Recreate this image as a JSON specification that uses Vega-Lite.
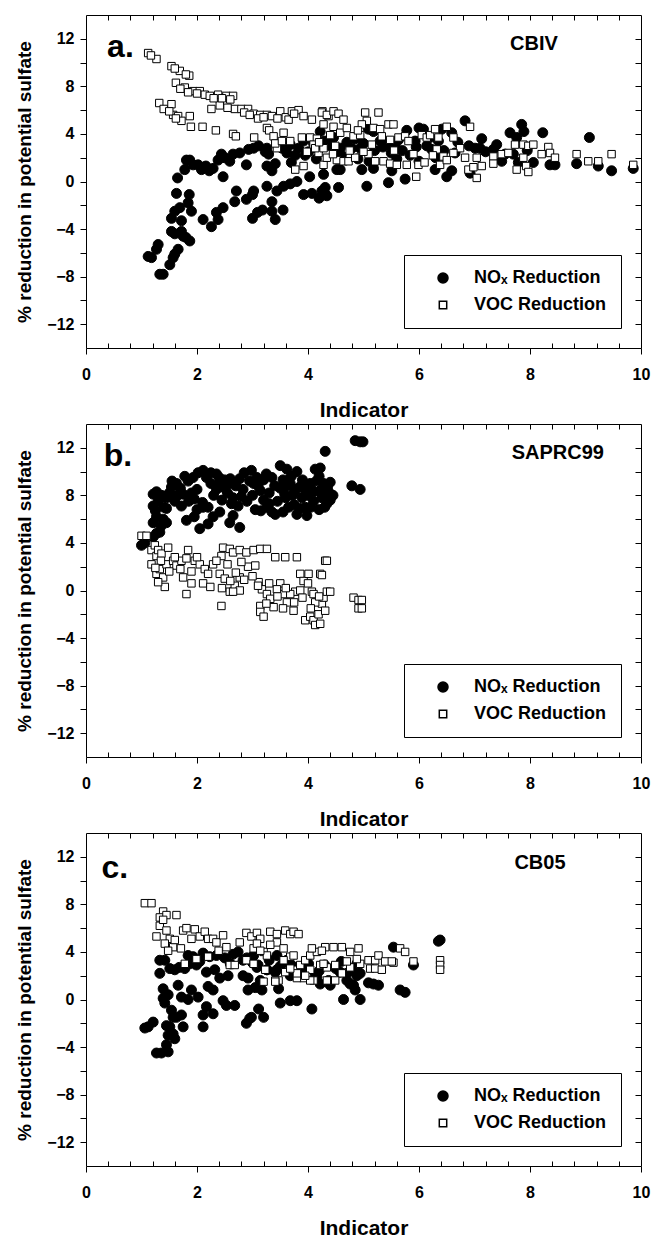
{
"$schema": "https://vega.github.io/schema/vega-lite/v6.json",
"padding": {"left": 15, "top": 14, "right": 5, "bottom": 0},
"spacing": 2,
"config": {
  "font": "Liberation Sans",
  "view": {"stroke": "black", "strokeWidth": 1},
  "axis": {"grid": false, "domain": false, "tickColor": "black", "tickWidth": 1, "labelColor": "black", "titleColor": "black", "labelFont": "Liberation Sans", "titleFont": "Liberation Sans", "labelFontSize": 16, "labelFontWeight": "bold", "titleFontSize": 21, "titleFontWeight": "bold", "labelFlush": false, "labelOverlap": false},
  "legend": {"orient": "bottom-right", "offset": 20, "strokeColor": "black", "strokeWidth": 1, "padding": 14, "labelFont": "Liberation Sans", "labelFontSize": 18, "labelFontWeight": "bold", "labelColor": "black", "symbolOffset": 16, "labelOffset": 22, "rowPadding": 9, "fillColor": "white"}
},
"resolve": {"scale": {"shape": "independent", "fill": "independent", "size": "independent"}},
"datasets": {
"a": [
{"s":"N","x":1.12,"y":-6.3},{"s":"N","x":1.18,"y":-6.4},{"s":"N","x":1.27,"y":-5.7},{"s":"N","x":1.30,"y":-5.3},{"s":"N","x":1.33,"y":-7.8},{"s":"N","x":1.39,"y":-7.8},{"s":"N","x":1.51,"y":-7.0},{"s":"N","x":1.57,"y":-6.4},{"s":"N","x":1.60,"y":-6.1},{"s":"N","x":1.66,"y":-5.7},{"s":"N","x":1.54,"y":-4.2},{"s":"N","x":1.60,"y":-4.4},{"s":"N","x":1.72,"y":-4.2},{"s":"N","x":1.75,"y":-4.6},{"s":"N","x":1.80,"y":-4.7},{"s":"N","x":1.87,"y":-5.0},{"s":"N","x":1.54,"y":-3.1},{"s":"N","x":1.60,"y":-2.5},{"s":"N","x":1.69,"y":-2.2},{"s":"N","x":1.72,"y":-3.3},{"s":"N","x":1.84,"y":-1.8},{"s":"N","x":1.90,"y":-2.5},{"s":"N","x":1.86,"y":-1.1},{"s":"N","x":1.63,"y":-1.0},{"s":"N","x":1.65,"y":0.3},{"s":"N","x":1.78,"y":1.0},{"s":"N","x":1.81,"y":1.8},{"s":"N","x":1.87,"y":1.8},{"s":"N","x":1.93,"y":1.4},{"s":"N","x":2.02,"y":1.4},{"s":"N","x":2.08,"y":1.0},{"s":"N","x":2.16,"y":1.3},{"s":"N","x":2.22,"y":0.9},{"s":"N","x":2.29,"y":1.1},{"s":"N","x":2.38,"y":1.8},{"s":"N","x":2.44,"y":2.3},{"s":"N","x":2.50,"y":2.0},{"s":"N","x":2.59,"y":1.7},{"s":"N","x":2.47,"y":0.4},{"s":"N","x":2.65,"y":2.3},{"s":"N","x":2.77,"y":2.4},{"s":"N","x":2.89,"y":1.4},{"s":"N","x":2.93,"y":2.7},{"s":"N","x":3.02,"y":2.8},{"s":"N","x":3.11,"y":3.0},{"s":"N","x":3.23,"y":2.5},{"s":"N","x":3.26,"y":2.8},{"s":"N","x":3.29,"y":2.3},{"s":"N","x":3.35,"y":0.9},{"s":"N","x":3.26,"y":1.3},{"s":"N","x":3.41,"y":1.5},{"s":"N","x":3.53,"y":2.8},{"s":"N","x":3.62,"y":2.4},{"s":"N","x":3.68,"y":3.1},{"s":"N","x":3.77,"y":2.2},{"s":"N","x":3.83,"y":2.8},{"s":"N","x":3.92,"y":3.4},{"s":"N","x":4.01,"y":2.5},{"s":"N","x":4.10,"y":3.2},{"s":"N","x":4.19,"y":2.7},{"s":"N","x":4.28,"y":0.6},{"s":"N","x":4.03,"y":0.4},{"s":"N","x":3.80,"y":0.0},{"s":"N","x":3.68,"y":-0.2},{"s":"N","x":3.56,"y":-0.4},{"s":"N","x":3.44,"y":-0.8},{"s":"N","x":3.26,"y":-0.4},{"s":"N","x":3.02,"y":-0.8},{"s":"N","x":3.00,"y":-1.1},{"s":"N","x":2.89,"y":-1.5},{"s":"N","x":2.71,"y":-0.8},{"s":"N","x":2.68,"y":-1.7},{"s":"N","x":2.47,"y":-2.2},{"s":"N","x":2.35,"y":-2.6},{"s":"N","x":2.38,"y":-3.2},{"s":"N","x":2.26,"y":-3.8},{"s":"N","x":2.11,"y":-3.2},{"s":"N","x":3.00,"y":-3.1},{"s":"N","x":3.09,"y":-2.6},{"s":"N","x":3.18,"y":-2.4},{"s":"N","x":3.35,"y":-1.7},{"s":"N","x":3.35,"y":-2.5},{"s":"N","x":3.41,"y":-3.2},{"s":"N","x":3.55,"y":-2.4},{"s":"N","x":3.92,"y":-1.1},{"s":"N","x":4.07,"y":-1.0},{"s":"N","x":4.20,"y":-1.4},{"s":"N","x":4.31,"y":-1.1},
{"s":"N","x":4.22,"y":4.2},{"s":"N","x":4.30,"y":3.4},{"s":"N","x":4.46,"y":3.7},{"s":"N","x":4.58,"y":2.8},{"s":"N","x":4.79,"y":2.8},{"s":"N","x":4.94,"y":2.8},{"s":"N","x":4.52,"y":1.0},{"s":"N","x":4.25,"y":-0.8},{"s":"N","x":4.31,"y":-0.5},{"s":"N","x":4.34,"y":-1.2},{"s":"N","x":4.55,"y":-0.5},{"s":"N","x":5.06,"y":-0.4},{"s":"N","x":5.45,"y":-0.1},{"s":"N","x":5.75,"y":0.2},{"s":"N","x":4.58,"y":1.0},{"s":"N","x":4.97,"y":1.0},{"s":"N","x":5.18,"y":1.1},{"s":"N","x":5.51,"y":0.9},{"s":"N","x":5.84,"y":2.2},{"s":"N","x":5.09,"y":4.4},{"s":"N","x":5.18,"y":4.2},{"s":"N","x":5.30,"y":3.4},{"s":"N","x":5.42,"y":3.1},{"s":"N","x":5.57,"y":3.0},{"s":"N","x":5.63,"y":3.5},{"s":"N","x":5.78,"y":4.3},{"s":"N","x":5.93,"y":3.4},{"s":"N","x":6.00,"y":4.5},{"s":"N","x":6.08,"y":4.4},{"s":"N","x":6.14,"y":3.0},{"s":"N","x":6.23,"y":2.7},{"s":"N","x":6.35,"y":3.4},{"s":"N","x":6.41,"y":4.4},{"s":"N","x":6.59,"y":4.1},{"s":"N","x":6.29,"y":1.0},{"s":"N","x":6.50,"y":0.4},{"s":"N","x":6.59,"y":0.9},{"s":"N","x":6.65,"y":2.4},{"s":"N","x":6.83,"y":5.1},{"s":"N","x":7.01,"y":2.8},{"s":"N","x":7.13,"y":3.6},{"s":"N","x":6.92,"y":0.7},{"s":"N","x":7.10,"y":2.8},{"s":"N","x":7.34,"y":2.7},{"s":"N","x":7.49,"y":1.7},{"s":"N","x":7.64,"y":4.1},{"s":"N","x":7.76,"y":3.7},{"s":"N","x":7.85,"y":4.8},{"s":"N","x":7.89,"y":4.2},{"s":"N","x":7.79,"y":1.6},{"s":"N","x":8.06,"y":1.6},{"s":"N","x":8.23,"y":4.1},{"s":"N","x":8.36,"y":1.4},{"s":"N","x":8.45,"y":1.4},{"s":"N","x":8.84,"y":1.5},{"s":"N","x":9.07,"y":3.7},{"s":"N","x":9.23,"y":1.3},{"s":"N","x":9.47,"y":0.9},{"s":"N","x":9.86,"y":1.1},{"s":"N","x":7.70,"y":2.3},{"s":"N","x":7.55,"y":2.3},
{"s":"N","x":4.40,"y":3.0},{"s":"N","x":4.70,"y":3.3},{"s":"N","x":4.85,"y":3.6},{"s":"N","x":5.00,"y":3.2},{"s":"N","x":5.20,"y":2.6},{"s":"N","x":5.35,"y":2.9},{"s":"N","x":5.50,"y":2.4},{"s":"N","x":5.70,"y":2.6},{"s":"N","x":5.95,"y":2.9},{"s":"N","x":6.20,"y":3.7},{"s":"N","x":6.45,"y":2.6},{"s":"N","x":6.70,"y":3.3},{"s":"N","x":6.90,"y":3.0},{"s":"N","x":7.20,"y":2.5},{"s":"N","x":7.40,"y":3.1},{"s":"N","x":7.95,"y":2.6},{"s":"N","x":4.60,"y":2.2},{"s":"N","x":4.90,"y":1.9},{"s":"N","x":5.10,"y":1.7},{"s":"N","x":5.60,"y":1.9},{"s":"N","x":6.00,"y":1.7},{"s":"N","x":6.30,"y":2.0},{"s":"N","x":4.15,"y":1.9},{"s":"N","x":3.95,"y":2.2},{"s":"N","x":3.70,"y":1.6},
{"s":"V","x":1.12,"y":10.8},{"s":"V","x":1.27,"y":10.3},{"s":"V","x":1.17,"y":10.6},{"s":"V","x":1.54,"y":9.7},{"s":"V","x":1.69,"y":9.3},{"s":"V","x":1.86,"y":8.9},{"s":"V","x":1.62,"y":8.3},{"s":"V","x":1.78,"y":7.9},{"s":"V","x":1.93,"y":7.6},{"s":"V","x":2.05,"y":7.6},{"s":"V","x":2.14,"y":7.3},{"s":"V","x":2.23,"y":7.2},{"s":"V","x":2.38,"y":7.3},{"s":"V","x":2.53,"y":7.2},{"s":"V","x":2.65,"y":7.2},{"s":"V","x":2.41,"y":6.4},{"s":"V","x":2.26,"y":6.1},{"s":"V","x":2.68,"y":6.1},{"s":"V","x":2.80,"y":6.1},{"s":"V","x":2.92,"y":6.1},{"s":"V","x":3.02,"y":5.7},{"s":"V","x":3.14,"y":5.6},{"s":"V","x":3.26,"y":5.6},{"s":"V","x":3.35,"y":5.5},{"s":"V","x":3.50,"y":5.9},{"s":"V","x":3.60,"y":5.4},{"s":"V","x":3.71,"y":5.9},{"s":"V","x":3.83,"y":6.0},{"s":"V","x":3.92,"y":5.5},{"s":"V","x":4.07,"y":5.2},{"s":"V","x":4.26,"y":5.9},{"s":"V","x":4.37,"y":5.5},
{"s":"V","x":1.32,"y":6.6},{"s":"V","x":1.40,"y":6.1},{"s":"V","x":1.54,"y":6.5},{"s":"V","x":1.57,"y":5.6},{"s":"V","x":1.66,"y":5.5},{"s":"V","x":1.72,"y":5.1},{"s":"V","x":1.87,"y":5.5},{"s":"V","x":1.89,"y":4.6},{"s":"V","x":2.10,"y":4.6},{"s":"V","x":2.34,"y":4.3},{"s":"V","x":2.65,"y":4.0},{"s":"V","x":2.70,"y":3.8},{"s":"V","x":3.03,"y":3.7},{"s":"V","x":3.26,"y":4.5},{"s":"V","x":3.30,"y":4.3},{"s":"V","x":3.38,"y":3.8},{"s":"V","x":3.56,"y":4.1},{"s":"V","x":3.44,"y":2.8},{"s":"V","x":3.41,"y":3.2},{"s":"V","x":3.53,"y":3.4},{"s":"V","x":3.68,"y":3.4},{"s":"V","x":3.89,"y":3.7},{"s":"V","x":4.04,"y":3.7},{"s":"V","x":4.16,"y":3.6},{"s":"V","x":4.10,"y":3.1},{"s":"V","x":4.19,"y":2.4},{"s":"V","x":4.28,"y":1.4},{"s":"V","x":3.77,"y":1.0},{"s":"V","x":3.92,"y":1.3},{"s":"V","x":3.98,"y":2.5},{"s":"V","x":4.13,"y":2.8},
{"s":"V","x":1.70,"y":7.8},{"s":"V","x":1.84,"y":7.5},{"s":"V","x":2.00,"y":7.4},{"s":"V","x":2.30,"y":7.0},{"s":"V","x":2.45,"y":7.0},{"s":"V","x":2.60,"y":6.9},{"s":"V","x":2.55,"y":6.2},{"s":"V","x":2.85,"y":5.8},{"s":"V","x":2.95,"y":5.6},{"s":"V","x":3.10,"y":5.3},{"s":"V","x":3.20,"y":5.4},{"s":"V","x":3.45,"y":5.3},{"s":"V","x":3.65,"y":5.2},{"s":"V","x":3.75,"y":5.7},{"s":"V","x":1.80,"y":9.0},{"s":"V","x":1.60,"y":9.5},{"s":"V","x":1.50,"y":5.9},{"s":"V","x":1.62,"y":5.3},
{"s":"V","x":4.25,"y":5.8},{"s":"V","x":4.34,"y":5.6},{"s":"V","x":4.46,"y":5.9},{"s":"V","x":4.55,"y":5.7},{"s":"V","x":4.64,"y":5.2},{"s":"V","x":4.28,"y":4.8},{"s":"V","x":4.46,"y":4.6},{"s":"V","x":4.40,"y":3.9},{"s":"V","x":4.58,"y":4.1},{"s":"V","x":4.82,"y":3.8},{"s":"V","x":4.94,"y":3.9},{"s":"V","x":5.03,"y":5.8},{"s":"V","x":5.27,"y":5.8},{"s":"V","x":5.06,"y":5.1},{"s":"V","x":4.97,"y":4.8},{"s":"V","x":5.18,"y":4.5},{"s":"V","x":5.30,"y":4.4},{"s":"V","x":5.45,"y":4.8},{"s":"V","x":5.54,"y":4.8},{"s":"V","x":5.33,"y":3.8},{"s":"V","x":5.48,"y":3.5},{"s":"V","x":5.63,"y":3.7},{"s":"V","x":5.75,"y":3.8},{"s":"V","x":5.81,"y":3.4},{"s":"V","x":4.28,"y":2.8},{"s":"V","x":4.49,"y":3.0},{"s":"V","x":4.34,"y":2.0},{"s":"V","x":4.52,"y":1.8},{"s":"V","x":4.64,"y":1.7},{"s":"V","x":4.73,"y":1.7},{"s":"V","x":4.85,"y":2.0},{"s":"V","x":5.09,"y":2.3},{"s":"V","x":5.21,"y":1.7},{"s":"V","x":5.36,"y":1.7},{"s":"V","x":5.48,"y":1.5},{"s":"V","x":5.60,"y":1.4},{"s":"V","x":5.78,"y":1.4},{"s":"V","x":5.99,"y":1.4},{"s":"V","x":5.95,"y":0.4},{"s":"V","x":6.05,"y":3.9},{"s":"V","x":6.14,"y":3.7},{"s":"V","x":6.20,"y":3.9},{"s":"V","x":6.29,"y":4.4},{"s":"V","x":6.35,"y":3.7},{"s":"V","x":6.50,"y":4.6},{"s":"V","x":6.62,"y":3.7},{"s":"V","x":6.74,"y":2.8},{"s":"V","x":6.32,"y":2.7},{"s":"V","x":6.44,"y":2.1},{"s":"V","x":6.38,"y":1.4},{"s":"V","x":6.50,"y":1.8},{"s":"V","x":6.62,"y":2.4},{"s":"V","x":6.83,"y":2.0},{"s":"V","x":6.92,"y":4.6},{"s":"V","x":6.89,"y":1.0},{"s":"V","x":6.98,"y":1.2},{"s":"V","x":7.04,"y":0.3},{"s":"V","x":7.13,"y":1.3},{"s":"V","x":7.04,"y":2.0},{"s":"V","x":7.34,"y":2.1},{"s":"V","x":7.34,"y":1.5},{"s":"V","x":7.49,"y":2.3},{"s":"V","x":7.61,"y":2.4},{"s":"V","x":7.73,"y":3.1},{"s":"V","x":7.76,"y":1.0},{"s":"V","x":7.88,"y":3.1},{"s":"V","x":7.97,"y":3.0},{"s":"V","x":8.06,"y":3.1},{"s":"V","x":7.93,"y":1.3},{"s":"V","x":7.97,"y":0.8},{"s":"V","x":7.88,"y":2.0},{"s":"V","x":8.21,"y":2.3},{"s":"V","x":8.33,"y":2.9},{"s":"V","x":8.36,"y":2.4},{"s":"V","x":8.45,"y":2.0},{"s":"V","x":8.84,"y":2.3},{"s":"V","x":9.05,"y":1.7},{"s":"V","x":9.23,"y":1.7},{"s":"V","x":9.47,"y":2.3},{"s":"V","x":9.86,"y":1.4},
{"s":"V","x":4.70,"y":4.5},{"s":"V","x":4.90,"y":4.3},{"s":"V","x":5.15,"y":3.1},{"s":"V","x":4.75,"y":2.6},{"s":"V","x":5.00,"y":2.5},{"s":"V","x":5.55,"y":2.6},{"s":"V","x":5.90,"y":2.3},{"s":"V","x":6.10,"y":1.6},{"s":"V","x":6.25,"y":2.2},{"s":"V","x":4.20,"y":3.3},{"s":"V","x":4.45,"y":2.3}
],
"b": [
{"s":"N","x":1.00,"y":3.8},{"s":"N","x":1.06,"y":4.0},{"s":"N","x":1.21,"y":4.5},{"s":"N","x":1.27,"y":4.8},{"s":"N","x":1.33,"y":4.9},{"s":"N","x":1.21,"y":5.7},{"s":"N","x":1.27,"y":6.2},{"s":"N","x":1.39,"y":6.0},{"s":"N","x":1.45,"y":6.9},{"s":"N","x":1.21,"y":7.1},{"s":"N","x":1.21,"y":8.1},{"s":"N","x":1.27,"y":8.3},{"s":"N","x":1.36,"y":8.0},{"s":"N","x":1.45,"y":7.8},{"s":"N","x":1.54,"y":8.7},{"s":"N","x":1.63,"y":9.0},{"s":"N","x":1.72,"y":7.1},{"s":"N","x":1.81,"y":5.9},{"s":"N","x":1.75,"y":8.1},{"s":"N","x":1.84,"y":9.2},{"s":"N","x":1.93,"y":9.5},{"s":"N","x":2.02,"y":9.9},{"s":"N","x":2.11,"y":10.1},{"s":"N","x":2.17,"y":9.5},{"s":"N","x":2.05,"y":5.2},{"s":"N","x":2.11,"y":7.0},{"s":"N","x":2.20,"y":5.6},{"s":"N","x":2.29,"y":6.2},{"s":"N","x":2.35,"y":9.8},{"s":"N","x":2.41,"y":9.1},{"s":"N","x":2.41,"y":6.6},{"s":"N","x":2.59,"y":5.7},{"s":"N","x":2.65,"y":6.3},{"s":"N","x":2.77,"y":5.3},{"s":"N","x":2.59,"y":9.0},{"s":"N","x":2.65,"y":7.8},{"s":"N","x":2.74,"y":7.1},{"s":"N","x":2.77,"y":9.4},{"s":"N","x":2.83,"y":8.5},{"s":"N","x":2.98,"y":10.1},{"s":"N","x":3.08,"y":9.5},{"s":"N","x":3.14,"y":8.4},{"s":"N","x":3.20,"y":7.6},{"s":"N","x":3.26,"y":7.0},{"s":"N","x":3.35,"y":6.6},{"s":"N","x":3.41,"y":6.4},{"s":"N","x":3.50,"y":10.5},{"s":"N","x":3.62,"y":10.2},{"s":"N","x":3.68,"y":9.0},{"s":"N","x":3.77,"y":8.4},{"s":"N","x":3.80,"y":6.4},{"s":"N","x":3.89,"y":7.8},{"s":"N","x":3.98,"y":6.3},{"s":"N","x":4.04,"y":9.0},{"s":"N","x":4.13,"y":10.2},{"s":"N","x":4.22,"y":8.4},{"s":"N","x":4.31,"y":11.7},
{"s":"N","x":4.22,"y":10.3},{"s":"N","x":4.28,"y":9.0},{"s":"N","x":4.40,"y":9.1},{"s":"N","x":4.25,"y":7.8},{"s":"N","x":4.34,"y":7.3},{"s":"N","x":4.37,"y":8.3},{"s":"N","x":4.79,"y":8.8},{"s":"N","x":4.94,"y":8.5},{"s":"N","x":4.85,"y":12.6},{"s":"N","x":4.94,"y":12.5},{"s":"N","x":4.99,"y":12.5},
{"s":"N","x":3.00,"y":8.0},{"s":"N","x":3.10,"y":8.8},{"s":"N","x":3.20,"y":9.3},{"s":"N","x":3.30,"y":8.2},{"s":"N","x":3.35,"y":9.5},{"s":"N","x":3.45,"y":7.5},{"s":"N","x":3.50,"y":8.6},{"s":"N","x":3.55,"y":9.3},{"s":"N","x":3.60,"y":7.8},{"s":"N","x":3.65,"y":8.8},{"s":"N","x":3.70,"y":9.6},{"s":"N","x":3.75,"y":7.2},{"s":"N","x":3.85,"y":8.7},{"s":"N","x":3.90,"y":9.3},{"s":"N","x":3.95,"y":7.0},{"s":"N","x":4.00,"y":8.0},{"s":"N","x":4.05,"y":8.6},{"s":"N","x":4.10,"y":7.5},{"s":"N","x":4.15,"y":9.2},{"s":"N","x":4.20,"y":6.8},{"s":"N","x":4.25,"y":8.1},{"s":"N","x":2.90,"y":7.5},{"s":"N","x":2.95,"y":9.2},{"s":"N","x":2.50,"y":8.6},{"s":"N","x":2.55,"y":8.2},{"s":"N","x":2.70,"y":8.8},{"s":"N","x":2.45,"y":7.6},{"s":"N","x":2.30,"y":8.0},{"s":"N","x":2.25,"y":9.0},{"s":"N","x":2.00,"y":8.5},{"s":"N","x":1.90,"y":8.2},{"s":"N","x":1.85,"y":7.5},{"s":"N","x":1.70,"y":8.6},{"s":"N","x":1.60,"y":7.5},{"s":"N","x":1.50,"y":8.2},{"s":"N","x":1.40,"y":7.0},{"s":"N","x":1.30,"y":7.5},{"s":"N","x":1.25,"y":6.7},{"s":"N","x":1.35,"y":5.4},{"s":"N","x":1.45,"y":5.7},{"s":"N","x":2.00,"y":6.8},{"s":"N","x":2.20,"y":7.0},{"s":"N","x":2.10,"y":7.4},{"s":"N","x":1.95,"y":6.2},{"s":"N","x":2.40,"y":9.5},{"s":"N","x":2.60,"y":9.4},{"s":"N","x":2.85,"y":9.9},{"s":"N","x":3.05,"y":6.8},{"s":"N","x":3.30,"y":7.3},{"s":"N","x":3.15,"y":6.7},{"s":"N","x":3.55,"y":6.6},{"s":"N","x":3.80,"y":10.0},{"s":"N","x":4.05,"y":7.0},{"s":"N","x":4.20,"y":9.6},{"s":"N","x":4.30,"y":7.0},{"s":"N","x":4.35,"y":8.7},{"s":"N","x":4.40,"y":7.6},{"s":"N","x":4.45,"y":8.0},
{"s":"N","x":1.55,"y":9.2},{"s":"N","x":1.78,"y":9.6},{"s":"N","x":2.25,"y":9.9},{"s":"N","x":2.50,"y":9.3},{"s":"N","x":2.62,"y":7.3},{"s":"N","x":2.80,"y":7.9},{"s":"N","x":3.02,"y":9.0},{"s":"N","x":3.25,"y":9.8},{"s":"N","x":3.40,"y":8.8},{"s":"N","x":3.58,"y":8.1},{"s":"N","x":3.72,"y":8.0},{"s":"N","x":3.95,"y":8.5},{"s":"N","x":4.10,"y":8.3},{"s":"N","x":3.85,"y":6.9},{"s":"N","x":3.65,"y":7.0},{"s":"N","x":1.95,"y":7.7},{"s":"N","x":2.35,"y":8.5},{"s":"N","x":1.65,"y":8.0},
{"s":"V","x":1.00,"y":4.6},{"s":"V","x":1.09,"y":4.6},{"s":"V","x":1.18,"y":3.4},{"s":"V","x":1.24,"y":3.8},{"s":"V","x":1.27,"y":2.9},{"s":"V","x":1.30,"y":3.4},{"s":"V","x":1.36,"y":3.1},{"s":"V","x":1.48,"y":3.6},{"s":"V","x":1.18,"y":2.2},{"s":"V","x":1.27,"y":1.4},{"s":"V","x":1.33,"y":1.8},{"s":"V","x":1.39,"y":1.1},{"s":"V","x":1.42,"y":0.3},{"s":"V","x":1.30,"y":0.7},{"s":"V","x":1.45,"y":2.2},{"s":"V","x":1.57,"y":2.5},{"s":"V","x":1.63,"y":2.1},{"s":"V","x":1.72,"y":2.5},{"s":"V","x":1.75,"y":1.1},{"s":"V","x":1.81,"y":2.7},{"s":"V","x":1.84,"y":3.4},{"s":"V","x":1.81,"y":-0.3},{"s":"V","x":1.90,"y":0.6},{"s":"V","x":1.96,"y":2.5},{"s":"V","x":2.05,"y":2.2},{"s":"V","x":2.11,"y":0.6},{"s":"V","x":2.14,"y":1.8},{"s":"V","x":2.24,"y":0.3},{"s":"V","x":2.29,"y":2.2},{"s":"V","x":2.41,"y":1.4},{"s":"V","x":2.44,"y":2.9},{"s":"V","x":2.47,"y":3.6},{"s":"V","x":2.59,"y":3.5},{"s":"V","x":2.65,"y":3.2},{"s":"V","x":2.77,"y":3.4},{"s":"V","x":2.89,"y":3.2},{"s":"V","x":3.02,"y":3.4},{"s":"V","x":3.14,"y":3.5},{"s":"V","x":3.26,"y":3.5},{"s":"V","x":3.41,"y":2.8},{"s":"V","x":3.59,"y":2.8},{"s":"V","x":3.80,"y":2.8},{"s":"V","x":2.44,"y":-1.3},{"s":"V","x":2.59,"y":-0.1},{"s":"V","x":2.68,"y":0.4},{"s":"V","x":2.77,"y":1.1},{"s":"V","x":2.92,"y":2.0},{"s":"V","x":3.05,"y":2.1},{"s":"V","x":3.11,"y":0.7},{"s":"V","x":3.17,"y":0.1},{"s":"V","x":3.14,"y":-1.3},{"s":"V","x":3.14,"y":-1.8},{"s":"V","x":3.20,"y":-2.2},{"s":"V","x":3.26,"y":-0.3},{"s":"V","x":3.32,"y":-0.7},{"s":"V","x":3.38,"y":-1.4},{"s":"V","x":3.50,"y":0.6},{"s":"V","x":3.56,"y":-0.3},{"s":"V","x":3.62,"y":-1.0},{"s":"V","x":3.74,"y":-1.7},{"s":"V","x":3.77,"y":-0.1},{"s":"V","x":3.86,"y":1.4},{"s":"V","x":3.92,"y":0.8},{"s":"V","x":3.95,"y":-2.5},{"s":"V","x":4.04,"y":-2.2},{"s":"V","x":4.10,"y":-2.5},{"s":"V","x":4.13,"y":-2.9},{"s":"V","x":4.19,"y":-2.0},{"s":"V","x":4.25,"y":-1.1},{"s":"V","x":4.01,"y":1.4},{"s":"V","x":4.07,"y":-0.1},{"s":"V","x":4.13,"y":-1.0},{"s":"V","x":4.10,"y":-0.3},{"s":"V","x":4.22,"y":1.4},{"s":"V","x":4.31,"y":2.5},{"s":"V","x":3.44,"y":0.1},{"s":"V","x":3.68,"y":-0.3},{"s":"V","x":3.86,"y":0.0},{"s":"V","x":2.77,"y":0.0},{"s":"V","x":2.65,"y":-0.1},
{"s":"V","x":4.34,"y":2.5},{"s":"V","x":4.25,"y":1.3},{"s":"V","x":4.28,"y":-0.6},{"s":"V","x":4.34,"y":-0.1},{"s":"V","x":4.40,"y":-0.1},{"s":"V","x":4.31,"y":-1.7},{"s":"V","x":4.22,"y":-2.8},{"s":"V","x":4.82,"y":-0.6},{"s":"V","x":4.91,"y":-0.8},{"s":"V","x":4.97,"y":-0.8},{"s":"V","x":4.91,"y":-1.5},{"s":"V","x":4.97,"y":-1.5},
{"s":"V","x":1.50,"y":1.6},{"s":"V","x":1.60,"y":2.8},{"s":"V","x":1.70,"y":1.8},{"s":"V","x":1.90,"y":1.6},{"s":"V","x":2.00,"y":2.8},{"s":"V","x":2.20,"y":1.4},{"s":"V","x":2.35,"y":2.5},{"s":"V","x":2.50,"y":1.0},{"s":"V","x":2.55,"y":2.2},{"s":"V","x":2.70,"y":1.5},{"s":"V","x":2.85,"y":0.9},{"s":"V","x":3.00,"y":1.2},{"s":"V","x":3.10,"y":0.4},{"s":"V","x":3.30,"y":0.6},{"s":"V","x":3.45,"y":-0.5},{"s":"V","x":3.60,"y":0.2},{"s":"V","x":3.75,"y":-1.0},{"s":"V","x":3.90,"y":-0.6},{"s":"V","x":4.00,"y":0.6},{"s":"V","x":4.20,"y":-0.5},{"s":"V","x":3.25,"y":-1.1},{"s":"V","x":3.55,"y":-1.5},{"s":"V","x":4.05,"y":-1.5},{"s":"V","x":1.35,"y":2.5},{"s":"V","x":1.25,"y":1.9},{"s":"V","x":2.80,"y":2.4},{"s":"V","x":2.60,"y":0.8},{"s":"V","x":2.45,"y":0.2}
],
"c": [
{"s":"N","x":1.06,"y":-2.4},{"s":"N","x":1.12,"y":-2.3},{"s":"N","x":1.21,"y":-1.9},{"s":"N","x":1.27,"y":-4.5},{"s":"N","x":1.36,"y":-4.5},{"s":"N","x":1.48,"y":-4.4},{"s":"N","x":1.45,"y":-3.8},{"s":"N","x":1.48,"y":-3.0},{"s":"N","x":1.51,"y":-2.3},{"s":"N","x":1.57,"y":-2.9},{"s":"N","x":1.60,"y":-3.3},{"s":"N","x":1.45,"y":-2.2},{"s":"N","x":1.39,"y":0.1},{"s":"N","x":1.42,"y":-0.3},{"s":"N","x":1.48,"y":0.4},{"s":"N","x":1.54,"y":-0.9},{"s":"N","x":1.57,"y":-1.5},{"s":"N","x":1.63,"y":-1.5},{"s":"N","x":1.66,"y":1.2},{"s":"N","x":1.72,"y":0.2},{"s":"N","x":1.75,"y":-2.3},{"s":"N","x":1.72,"y":-1.3},{"s":"N","x":1.84,"y":0.0},{"s":"N","x":1.90,"y":0.8},{"s":"N","x":2.02,"y":0.2},{"s":"N","x":1.39,"y":0.9},{"s":"N","x":1.33,"y":2.2},{"s":"N","x":1.33,"y":3.3},{"s":"N","x":1.42,"y":3.3},{"s":"N","x":1.51,"y":2.6},{"s":"N","x":1.60,"y":2.5},{"s":"N","x":1.68,"y":2.7},{"s":"N","x":1.78,"y":2.6},{"s":"N","x":1.87,"y":3.0},{"s":"N","x":1.99,"y":2.9},{"s":"N","x":2.05,"y":3.2},{"s":"N","x":1.84,"y":3.7},{"s":"N","x":1.93,"y":3.6},{"s":"N","x":2.11,"y":3.9},{"s":"N","x":2.23,"y":3.6},{"s":"N","x":2.17,"y":2.3},{"s":"N","x":2.20,"y":1.1},{"s":"N","x":2.29,"y":0.8},{"s":"N","x":2.11,"y":-1.3},{"s":"N","x":2.17,"y":-0.6},{"s":"N","x":2.29,"y":-1.2},{"s":"N","x":2.11,"y":-2.3},{"s":"N","x":2.32,"y":2.5},{"s":"N","x":2.41,"y":1.8},{"s":"N","x":2.47,"y":-0.1},{"s":"N","x":2.53,"y":-0.5},{"s":"N","x":2.56,"y":2.0},{"s":"N","x":2.68,"y":-0.5},{"s":"N","x":2.74,"y":4.0},{"s":"N","x":2.83,"y":3.3},{"s":"N","x":2.83,"y":2.0},{"s":"N","x":2.92,"y":1.8},{"s":"N","x":2.89,"y":-2.0},{"s":"N","x":2.95,"y":-1.6},{"s":"N","x":2.98,"y":-1.5},{"s":"N","x":2.92,"y":0.8},{"s":"N","x":3.05,"y":1.0},{"s":"N","x":3.11,"y":-0.8},{"s":"N","x":3.20,"y":-1.5},{"s":"N","x":3.17,"y":0.8},{"s":"N","x":3.08,"y":2.7},{"s":"N","x":3.26,"y":2.5},{"s":"N","x":3.41,"y":2.3},{"s":"N","x":3.47,"y":0.9},{"s":"N","x":3.50,"y":-0.3},{"s":"N","x":3.68,"y":-0.1},{"s":"N","x":3.80,"y":-0.1},{"s":"N","x":4.07,"y":-0.8},{"s":"N","x":3.56,"y":3.1},{"s":"N","x":3.68,"y":2.0},{"s":"N","x":3.86,"y":2.3},{"s":"N","x":3.98,"y":3.1},{"s":"N","x":4.13,"y":2.0},{"s":"N","x":4.22,"y":1.3},{"s":"N","x":4.37,"y":1.6},{"s":"N","x":3.44,"y":3.7},{"s":"N","x":3.02,"y":3.7},
{"s":"N","x":5.54,"y":4.4},{"s":"N","x":6.35,"y":4.9},{"s":"N","x":6.38,"y":5.0},{"s":"N","x":5.90,"y":2.9},{"s":"N","x":5.66,"y":0.8},{"s":"N","x":5.75,"y":0.6},{"s":"N","x":5.09,"y":1.4},{"s":"N","x":5.18,"y":1.3},{"s":"N","x":5.27,"y":1.2},{"s":"N","x":4.64,"y":0.0},{"s":"N","x":4.94,"y":0.0},{"s":"N","x":4.82,"y":1.2},{"s":"N","x":4.70,"y":1.6},{"s":"N","x":4.40,"y":1.2},{"s":"N","x":4.88,"y":2.0},{"s":"N","x":4.58,"y":2.3},{"s":"N","x":3.26,"y":2.5},{"s":"N","x":3.14,"y":1.6},{"s":"N","x":3.44,"y":2.5},{"s":"N","x":3.84,"y":2.7},{"s":"N","x":4.16,"y":1.9},{"s":"N","x":4.70,"y":2.2},{"s":"N","x":4.76,"y":1.3},{"s":"N","x":4.85,"y":0.8},{"s":"N","x":4.94,"y":2.2},{"s":"N","x":4.88,"y":3.0},{"s":"N","x":4.01,"y":3.0},{"s":"N","x":3.62,"y":3.3},
{"s":"N","x":2.35,"y":3.7},{"s":"N","x":2.50,"y":3.5},{"s":"N","x":2.60,"y":3.0},{"s":"N","x":2.65,"y":3.8},{"s":"N","x":2.90,"y":3.5},{"s":"N","x":3.00,"y":3.1},{"s":"N","x":3.10,"y":2.9},{"s":"N","x":3.30,"y":3.3},{"s":"N","x":3.50,"y":2.8},{"s":"N","x":3.70,"y":2.9},{"s":"N","x":3.90,"y":2.7},{"s":"N","x":4.20,"y":2.4},{"s":"N","x":4.30,"y":2.9},{"s":"N","x":4.50,"y":2.6},{"s":"N","x":4.60,"y":3.2},{"s":"N","x":4.80,"y":2.4},
{"s":"V","x":1.06,"y":8.1},{"s":"V","x":1.18,"y":8.1},{"s":"V","x":1.39,"y":7.4},{"s":"V","x":1.33,"y":6.9},{"s":"V","x":1.45,"y":7.1},{"s":"V","x":1.63,"y":7.1},{"s":"V","x":1.27,"y":5.3},{"s":"V","x":1.33,"y":6.2},{"s":"V","x":1.39,"y":6.7},{"s":"V","x":1.45,"y":5.8},{"s":"V","x":1.51,"y":5.1},{"s":"V","x":1.57,"y":4.4},{"s":"V","x":1.42,"y":4.7},{"s":"V","x":1.48,"y":4.1},{"s":"V","x":1.60,"y":5.0},{"s":"V","x":1.71,"y":4.3},{"s":"V","x":1.75,"y":5.8},{"s":"V","x":1.81,"y":6.0},{"s":"V","x":1.90,"y":5.1},{"s":"V","x":1.96,"y":5.9},{"s":"V","x":2.05,"y":5.3},{"s":"V","x":2.14,"y":5.7},{"s":"V","x":2.20,"y":5.1},{"s":"V","x":2.29,"y":5.1},{"s":"V","x":2.35,"y":4.8},{"s":"V","x":2.47,"y":5.4},{"s":"V","x":2.53,"y":4.4},{"s":"V","x":2.39,"y":4.1},{"s":"V","x":2.59,"y":2.9},{"s":"V","x":2.68,"y":2.9},{"s":"V","x":2.77,"y":4.8},{"s":"V","x":2.89,"y":5.6},{"s":"V","x":2.98,"y":5.3},{"s":"V","x":3.08,"y":5.6},{"s":"V","x":3.14,"y":5.1},{"s":"V","x":3.02,"y":4.3},{"s":"V","x":3.08,"y":4.7},{"s":"V","x":3.20,"y":4.0},{"s":"V","x":3.26,"y":3.7},{"s":"V","x":3.32,"y":5.7},{"s":"V","x":3.44,"y":5.5},{"s":"V","x":3.59,"y":5.8},{"s":"V","x":3.68,"y":5.5},{"s":"V","x":3.74,"y":5.7},{"s":"V","x":3.83,"y":5.5},{"s":"V","x":3.44,"y":4.8},{"s":"V","x":3.56,"y":4.3},{"s":"V","x":3.68,"y":3.6},{"s":"V","x":3.74,"y":2.5},{"s":"V","x":3.59,"y":2.3},{"s":"V","x":3.47,"y":1.6},{"s":"V","x":3.41,"y":1.6},{"s":"V","x":3.74,"y":3.7},{"s":"V","x":3.86,"y":2.9},{"s":"V","x":3.95,"y":3.3},{"s":"V","x":4.04,"y":3.7},{"s":"V","x":4.16,"y":4.0},{"s":"V","x":4.31,"y":4.4},{"s":"V","x":4.22,"y":2.9},{"s":"V","x":4.34,"y":2.7},{"s":"V","x":4.04,"y":2.5},{"s":"V","x":3.92,"y":1.8},{"s":"V","x":4.10,"y":1.6},{"s":"V","x":3.80,"y":1.8},{"s":"V","x":3.23,"y":2.5},{"s":"V","x":2.89,"y":3.3},{"s":"V","x":2.20,"y":3.6},{"s":"V","x":1.99,"y":3.4},{"s":"V","x":1.78,"y":3.0},
{"s":"V","x":4.07,"y":4.3},{"s":"V","x":4.25,"y":4.1},{"s":"V","x":4.46,"y":4.4},{"s":"V","x":4.61,"y":4.4},{"s":"V","x":4.76,"y":4.0},{"s":"V","x":4.91,"y":4.3},{"s":"V","x":5.09,"y":3.3},{"s":"V","x":5.21,"y":3.3},{"s":"V","x":5.27,"y":3.7},{"s":"V","x":5.39,"y":3.2},{"s":"V","x":5.54,"y":3.1},{"s":"V","x":5.66,"y":4.3},{"s":"V","x":5.75,"y":4.0},{"s":"V","x":5.90,"y":3.2},{"s":"V","x":6.38,"y":3.3},{"s":"V","x":6.38,"y":2.9},{"s":"V","x":6.38,"y":2.5},{"s":"V","x":5.12,"y":2.6},{"s":"V","x":5.21,"y":2.6},{"s":"V","x":5.33,"y":2.5},{"s":"V","x":4.94,"y":3.0},{"s":"V","x":4.76,"y":2.7},{"s":"V","x":4.61,"y":2.2},{"s":"V","x":4.49,"y":1.6},{"s":"V","x":4.34,"y":1.6},{"s":"V","x":4.04,"y":1.6},{"s":"V","x":3.95,"y":2.0},{"s":"V","x":3.80,"y":2.2},{"s":"V","x":3.68,"y":2.6},{"s":"V","x":3.56,"y":3.3},{"s":"V","x":3.20,"y":1.5},{"s":"V","x":3.41,"y":1.5},{"s":"V","x":3.02,"y":3.0},{"s":"V","x":3.14,"y":4.1},{"s":"V","x":3.32,"y":4.6},{"s":"V","x":4.28,"y":3.0},{"s":"V","x":4.49,"y":2.9},{"s":"V","x":4.70,"y":3.2},{"s":"V","x":4.88,"y":3.4},{"s":"V","x":5.51,"y":3.2}
]
},
"vconcat": [
{
 "width": 555, "height": 333,
 "resolve": {"axis": {"x": "independent", "y": "independent"}},
 "layer": [
  {"data": {"name": "a"},
   "mark": {"type": "point", "filled": true, "opacity": 1, "stroke": "black", "strokeWidth": 1},
   "encoding": {
    "x": {"field": "x", "type": "quantitative", "scale": {"domain": [0, 10], "nice": false, "zero": false}, "axis": {"orient": "bottom", "values": [0, 2, 4, 6, 8, 10], "tickSize": 6, "labelPadding": 12, "title": "Indicator", "titlePadding": 17}},
    "y": {"field": "y", "type": "quantitative", "scale": {"domain": [-14, 14], "nice": false, "zero": false}, "axis": {"orient": "left", "values": [-12, -10, -8, -6, -4, -2, 0, 2, 4, 6, 8, 10, 12], "tickSize": 6, "labelPadding": 6, "labelExpr": "datum.value % 4 == 0 ? datum.label : ''", "title": "% reduction in potential sulfate", "titleFontSize": 19, "titlePadding": 12}},
    "shape": {"field": "s", "type": "nominal", "scale": {"domain": ["N", "V"], "range": ["circle", "square"]}, "legend": {"title": null, "labelExpr": "datum.label == 'N' ? 'NOₓ Reduction' : 'VOC Reduction'"}},
    "fill": {"field": "s", "type": "nominal", "scale": {"domain": ["N", "V"], "range": ["black", "white"]}, "legend": {"title": null, "labelExpr": "datum.label == 'N' ? 'NOₓ Reduction' : 'VOC Reduction'"}},
    "size": {"field": "s", "type": "nominal", "scale": {"domain": ["N", "V"], "range": [100, 55]}, "legend": {"title": null, "labelExpr": "datum.label == 'N' ? 'NOₓ Reduction' : 'VOC Reduction'"}}
   }},
  {"data": {"values": [{}]},
   "mark": {"type": "text", "fontSize": 32, "fontWeight": "bold", "align": "left", "baseline": "alphabetic", "color": "black"},
   "encoding": {
    "x": {"datum": 0.38, "type": "quantitative", "axis": {"orient": "bottom", "values": [0.4, 0.8, 1.2, 1.6, 2.4, 2.8, 3.2, 3.6, 4.4, 4.8, 5.2, 5.6, 6.4, 6.8, 7.2, 7.6, 8.4, 8.8, 9.2, 9.6], "tickSize": -5, "labels": false, "title": null}},
    "y": {"datum": 10.5, "type": "quantitative", "axis": {"orient": "right", "values": [-12, -10, -8, -6, -4, -2, 0, 2, 4, 6, 8, 10, 12], "tickSize": -6, "labels": false, "title": null}},
    "text": {"value": "a."}
   }},
  {"data": {"values": [{}]},
   "mark": {"type": "text", "fontSize": 20, "fontWeight": "bold", "align": "center", "baseline": "alphabetic", "color": "black"},
   "encoding": {
    "x": {"datum": 8.07, "type": "quantitative", "axis": {"orient": "top", "values": [0.4, 0.8, 1.2, 1.6, 2, 2.4, 2.8, 3.2, 3.6, 4, 4.4, 4.8, 5.2, 5.6, 6, 6.4, 6.8, 7.2, 7.6, 8, 8.4, 8.8, 9.2, 9.6], "tickSize": -5, "labels": false, "title": null}},
    "y": {"datum": 11.06, "type": "quantitative", "axis": null},
    "text": {"value": "CBIV"}
   }}
 ]
},
{
 "width": 555, "height": 333,
 "resolve": {"axis": {"x": "independent", "y": "independent"}},
 "layer": [
  {"data": {"name": "b"},
   "mark": {"type": "point", "filled": true, "opacity": 1, "stroke": "black", "strokeWidth": 1},
   "encoding": {
    "x": {"field": "x", "type": "quantitative", "scale": {"domain": [0, 10], "nice": false, "zero": false}, "axis": {"orient": "bottom", "values": [0, 2, 4, 6, 8, 10], "tickSize": 6, "labelPadding": 12, "title": "Indicator", "titlePadding": 17}},
    "y": {"field": "y", "type": "quantitative", "scale": {"domain": [-14, 14], "nice": false, "zero": false}, "axis": {"orient": "left", "values": [-12, -10, -8, -6, -4, -2, 0, 2, 4, 6, 8, 10, 12], "tickSize": 6, "labelPadding": 6, "labelExpr": "datum.value % 4 == 0 ? datum.label : ''", "title": "% reduction in potential sulfate", "titleFontSize": 19, "titlePadding": 12}},
    "shape": {"field": "s", "type": "nominal", "scale": {"domain": ["N", "V"], "range": ["circle", "square"]}, "legend": {"title": null, "labelExpr": "datum.label == 'N' ? 'NOₓ Reduction' : 'VOC Reduction'"}},
    "fill": {"field": "s", "type": "nominal", "scale": {"domain": ["N", "V"], "range": ["black", "white"]}, "legend": {"title": null, "labelExpr": "datum.label == 'N' ? 'NOₓ Reduction' : 'VOC Reduction'"}},
    "size": {"field": "s", "type": "nominal", "scale": {"domain": ["N", "V"], "range": [100, 55]}, "legend": {"title": null, "labelExpr": "datum.label == 'N' ? 'NOₓ Reduction' : 'VOC Reduction'"}}
   }},
  {"data": {"values": [{}]},
   "mark": {"type": "text", "fontSize": 32, "fontWeight": "bold", "align": "left", "baseline": "alphabetic", "color": "black"},
   "encoding": {
    "x": {"datum": 0.32, "type": "quantitative", "axis": {"orient": "bottom", "values": [0.4, 0.8, 1.2, 1.6, 2.4, 2.8, 3.2, 3.6, 4.4, 4.8, 5.2, 5.6, 6.4, 6.8, 7.2, 7.6, 8.4, 8.8, 9.2, 9.6], "tickSize": -5, "labels": false, "title": null}},
    "y": {"datum": 10.45, "type": "quantitative", "axis": {"orient": "right", "values": [-12, -10, -8, -6, -4, -2, 0, 2, 4, 6, 8, 10, 12], "tickSize": -6, "labels": false, "title": null}},
    "text": {"value": "b."}
   }},
  {"data": {"values": [{}]},
   "mark": {"type": "text", "fontSize": 20, "fontWeight": "bold", "align": "center", "baseline": "alphabetic", "color": "black"},
   "encoding": {
    "x": {"datum": 8.5, "type": "quantitative", "axis": {"orient": "top", "values": [0.4, 0.8, 1.2, 1.6, 2, 2.4, 2.8, 3.2, 3.6, 4, 4.4, 4.8, 5.2, 5.6, 6, 6.4, 6.8, 7.2, 7.6, 8, 8.4, 8.8, 9.2, 9.6], "tickSize": -5, "labels": false, "title": null}},
    "y": {"datum": 11.06, "type": "quantitative", "axis": null},
    "text": {"value": "SAPRC99"}
   }}
 ]
},
{
 "width": 555, "height": 333,
 "resolve": {"axis": {"x": "independent", "y": "independent"}},
 "layer": [
  {"data": {"name": "c"},
   "mark": {"type": "point", "filled": true, "opacity": 1, "stroke": "black", "strokeWidth": 1},
   "encoding": {
    "x": {"field": "x", "type": "quantitative", "scale": {"domain": [0, 10], "nice": false, "zero": false}, "axis": {"orient": "bottom", "values": [0, 2, 4, 6, 8, 10], "tickSize": 6, "labelPadding": 12, "title": "Indicator", "titlePadding": 17}},
    "y": {"field": "y", "type": "quantitative", "scale": {"domain": [-14, 14], "nice": false, "zero": false}, "axis": {"orient": "left", "values": [-12, -10, -8, -6, -4, -2, 0, 2, 4, 6, 8, 10, 12], "tickSize": 6, "labelPadding": 6, "labelExpr": "datum.value % 4 == 0 ? datum.label : ''", "title": "% reduction in potential sulfate", "titleFontSize": 19, "titlePadding": 12}},
    "shape": {"field": "s", "type": "nominal", "scale": {"domain": ["N", "V"], "range": ["circle", "square"]}, "legend": {"title": null, "labelExpr": "datum.label == 'N' ? 'NOₓ Reduction' : 'VOC Reduction'"}},
    "fill": {"field": "s", "type": "nominal", "scale": {"domain": ["N", "V"], "range": ["black", "white"]}, "legend": {"title": null, "labelExpr": "datum.label == 'N' ? 'NOₓ Reduction' : 'VOC Reduction'"}},
    "size": {"field": "s", "type": "nominal", "scale": {"domain": ["N", "V"], "range": [100, 55]}, "legend": {"title": null, "labelExpr": "datum.label == 'N' ? 'NOₓ Reduction' : 'VOC Reduction'"}}
   }},
  {"data": {"values": [{}]},
   "mark": {"type": "text", "fontSize": 32, "fontWeight": "bold", "align": "left", "baseline": "alphabetic", "color": "black"},
   "encoding": {
    "x": {"datum": 0.28, "type": "quantitative", "axis": {"orient": "bottom", "values": [0.4, 0.8, 1.2, 1.6, 2.4, 2.8, 3.2, 3.6, 4.4, 4.8, 5.2, 5.6, 6.4, 6.8, 7.2, 7.6, 8.4, 8.8, 9.2, 9.6], "tickSize": -5, "labels": false, "title": null}},
    "y": {"datum": 10.25, "type": "quantitative", "axis": {"orient": "right", "values": [-12, -10, -8, -6, -4, -2, 0, 2, 4, 6, 8, 10, 12], "tickSize": -6, "labels": false, "title": null}},
    "text": {"value": "c."}
   }},
  {"data": {"values": [{}]},
   "mark": {"type": "text", "fontSize": 20, "fontWeight": "bold", "align": "center", "baseline": "alphabetic", "color": "black"},
   "encoding": {
    "x": {"datum": 8.18, "type": "quantitative", "axis": {"orient": "top", "values": [0.4, 0.8, 1.2, 1.6, 2, 2.4, 2.8, 3.2, 3.6, 4, 4.4, 4.8, 5.2, 5.6, 6, 6.4, 6.8, 7.2, 7.6, 8, 8.4, 8.8, 9.2, 9.6], "tickSize": -5, "labels": false, "title": null}},
    "y": {"datum": 11.0, "type": "quantitative", "axis": null},
    "text": {"value": "CB05"}
   }}
 ]
}
]
}
